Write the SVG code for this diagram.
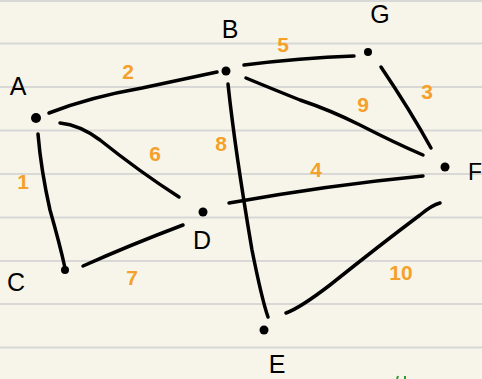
<svg xmlns="http://www.w3.org/2000/svg" width="482" height="379" viewBox="0 0 482 379">
<style>
.rule{stroke:#d8d8d6;stroke-width:2}
.edge{fill:none;stroke:#000;stroke-width:3.5;stroke-linecap:round;stroke-linejoin:round}
.dot{fill:#000}
.lbl{font-family:"Liberation Sans",Arial,sans-serif;font-size:25px;fill:#000;text-anchor:middle}
.w{font-family:"Liberation Sans",Arial,sans-serif;font-size:21px;font-weight:bold;fill:#f5a02a;text-anchor:middle}
</style>
<rect width="482" height="379" fill="#f7f5ea"/>
<g id="paper">
<line class="rule" x1="0" y1="1" x2="482" y2="1"/>
<line class="rule" x1="0" y1="43.5" x2="482" y2="43.5"/>
<line class="rule" x1="0" y1="87" x2="482" y2="87"/>
<line class="rule" x1="0" y1="130.5" x2="482" y2="130.5"/>
<line class="rule" x1="0" y1="174" x2="482" y2="174"/>
<line class="rule" x1="0" y1="217.5" x2="482" y2="217.5"/>
<line class="rule" x1="0" y1="261" x2="482" y2="261"/>
<line class="rule" x1="0" y1="304" x2="482" y2="304"/>
<line class="rule" x1="0" y1="347.5" x2="482" y2="347.5"/>
</g>
<g id="connectors">
<path class="edge" d="M49,113 Q90,97 142,88 Q180,80 217,72"/>
<path class="edge" d="M60,123 Q80,125 100,140 Q140,172 179,197"/>
<path class="edge" d="M38,134 Q41,170 50,210 Q60,245 65,268"/>
<path class="edge" d="M83,266 Q130,245 183,225"/>
<path class="edge" d="M229,203 Q330,185 423,176"/>
<path class="edge" d="M228,84 Q235,150 252,250 Q262,300 268,317"/>
<path class="edge" d="M286,313 Q300,308 330,285 Q380,245 420,215 Q432,205 440,203"/>
<path class="edge" d="M244,65 Q300,58 354,56"/>
<path class="edge" d="M246,78 Q270,88 300,100 Q330,110 360,125 Q395,143 423,155"/>
<path class="edge" d="M381,67 Q410,110 431,148"/>
</g>
<g id="A"><circle class="dot" cx="36" cy="118" r="5"/><text class="lbl" x="18" y="95">A</text></g>
<g id="B"><circle class="dot" cx="226" cy="71" r="4.5"/><text class="lbl" x="230" y="38">B</text></g>
<g id="G"><circle class="dot" cx="368" cy="52" r="4"/><text class="lbl" x="380" y="23">G</text></g>
<g id="F"><circle class="dot" cx="445" cy="167" r="4.5"/><text class="lbl" x="468" y="180" style="text-anchor:start;font-size:23px">F</text></g>
<g id="D"><circle class="dot" cx="203" cy="212" r="4.5"/><text class="lbl" x="202" y="249">D</text></g>
<g id="C"><circle class="dot" cx="65" cy="270" r="4"/><text class="lbl" x="16" y="291">C</text></g>
<g id="E"><circle class="dot" cx="264" cy="330" r="4.5"/><text class="lbl" x="277" y="373">E</text></g>
<g id="weights">
<text class="w" x="128" y="79">2</text>
<text class="w" x="155" y="161">6</text>
<text class="w" x="221" y="151">8</text>
<text class="w" x="23" y="189">1</text>
<text class="w" x="283" y="52">5</text>
<text class="w" x="363" y="112">9</text>
<text class="w" x="427" y="99">3</text>
<text class="w" x="316" y="177">4</text>
<text class="w" x="132" y="285">7</text>
<text class="w" x="401" y="280">10</text>
</g>
<path d="M397,379 L398,376 M405,379 L405,376" stroke="#2a9d2a" stroke-width="2" fill="none"/>
</svg>
